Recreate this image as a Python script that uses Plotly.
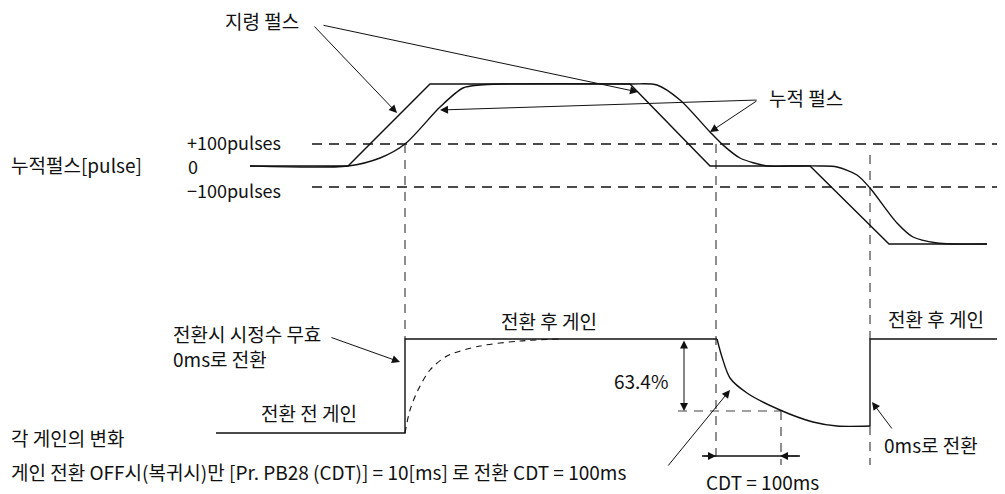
import plotly.graph_objects as go

# 지령 펄스 (command pulses) - time / level
cmd_t = [250, 348, 430, 630, 710, 810, 889, 987]
cmd_y = [166, 166, 84, 84, 166, 166, 244, 244]

# 누적 펄스 (droop / accumulated pulses), read at key points
fb_t = [250, 348, 380, 405, 440, 463, 480, 500, 630, 657, 680, 710, 723, 740, 767, 790,
        820, 837, 857, 870, 897, 913, 937, 953, 987]
fb_y = [166, 166, 158, 144, 107, 88, 85, 84, 84, 85, 100, 132, 145, 158, 166, 166,
        166, 167, 175, 188, 223, 237, 243, 244, 244]

# 게인 변화 (gain)
gain_t = [216, 405, 405, 717]
gain_y = [433, 433, 339, 339]
decay_t = [717, 722, 730, 747, 780, 813, 837, 870]
decay_y = [339, 357, 378, 393, 410, 422, 426, 426]
after_t = [870, 870, 1000]
after_y = [426, 339, 339]
tc_t = [405, 410, 418, 430, 447, 480, 520, 560]
tc_y = [433, 410, 390, 370, 356, 346, 341, 339]

FONT = "Noto Sans CJK KR"
BLK = "#111111"
DSH = "#444444"

fig = go.Figure()


def line(x, y, color=BLK, dash="solid", shape="linear", width=1.4):
    fig.add_trace(go.Scatter(x=x, y=y, mode="lines", hoverinfo="skip",
                             line=dict(color=color, width=width, dash=dash, shape=shape,
                                       smoothing=0.8)))


# reference dashed lines
line([312, 1000], [144, 144], dash="10px,7px")
line([312, 1000], [187, 187], dash="10px,7px")
line([405, 405], [144, 339], color=DSH, dash="9px,7px", width=1.2)
line([716, 716], [144, 463], color=DSH, dash="9px,7px", width=1.2)
line([870, 870], [155, 339], color=DSH, dash="9px,7px", width=1.2)
line([870, 870], [426, 465], color=DSH, dash="9px,7px", width=1.2)
line([678, 781], [411, 411], color=DSH, dash="9px,7px", width=1.2)
line([781, 781], [411, 465], color=DSH, dash="9px,7px", width=1.2)

# waveforms
line(cmd_t, cmd_y)
line(fb_t, fb_y, shape="spline")
line(gain_t, gain_y)
line(decay_t, decay_y, shape="spline")
line(after_t, after_y)
line(tc_t, tc_y, dash="6px,5px", shape="spline", width=1.1)

# CDT dimension line
line([702, 800], [456, 456])


def arrow(x, y, ax, ay, side="end"):
    fig.add_annotation(x=x, y=y, ax=ax, ay=ay, xref="x", yref="y", axref="x", ayref="y",
                       text="", showarrow=True, arrowhead=2, startarrowhead=2,
                       arrowside=side, arrowsize=1.6, startarrowsize=1.6, arrowwidth=1,
                       arrowcolor=BLK, standoff=0, startstandoff=0)


arrow(397, 113, 313, 25)
arrow(638, 92, 322, 25)
arrow(710, 132, 758, 100)
arrow(440, 110, 758, 100)
arrow(400, 362, 330, 337)
arrow(684, 411, 684, 339, side="end+start")
arrow(716, 456, 702, 456)
arrow(780, 456, 800, 456)
arrow(730, 390, 667, 467)
arrow(872, 402, 893, 430)


def label(x, y, text, anchor="left", size=19):
    fig.add_annotation(x=x, y=y, xref="x", yref="y", text=text, showarrow=False,
                       xanchor=anchor, yanchor="middle", borderpad=0,
                       font=dict(family=FONT, size=size, color=BLK))


label(262, 20, "지령 펄스", "center")
label(806, 97, "누적 펄스", "center")
label(10, 164, "누적펄스[pulse]")
label(186, 142, "+100pulses", size=18)
label(187, 166, "0", size=18)
label(186, 190, "−100pulses", size=18)
label(172, 333, "전환시 시정수 무효")
label(172, 358, "0ms로 전환")
label(309, 412, "전환 전 게인", "center")
label(10, 437, "각 게인의 변화")
label(10, 471, "게인 전환 OFF시(복귀시)만 [Pr. PB28 (CDT)] = 10[ms] 로 전환 CDT = 100ms")
label(549, 320, "전환 후 게인", "center")
label(936, 318, "전환 후 게인", "center")
label(641, 380, "63.4%", "center")
label(762, 481, "CDT = 100ms", "center")
label(931, 444, "0ms로 전환", "center")

# the page body has an 8px margin, so the plot starts at (8, 8)
fig.update_layout(
    width=997, height=486,
    margin=dict(l=0, r=0, t=0, b=0),
    paper_bgcolor="white", plot_bgcolor="white",
    showlegend=False,
    xaxis=dict(range=[8, 1005], visible=False, fixedrange=True),
    yaxis=dict(range=[494, 8], visible=False, fixedrange=True),
)

fig.write_html("out.html")
